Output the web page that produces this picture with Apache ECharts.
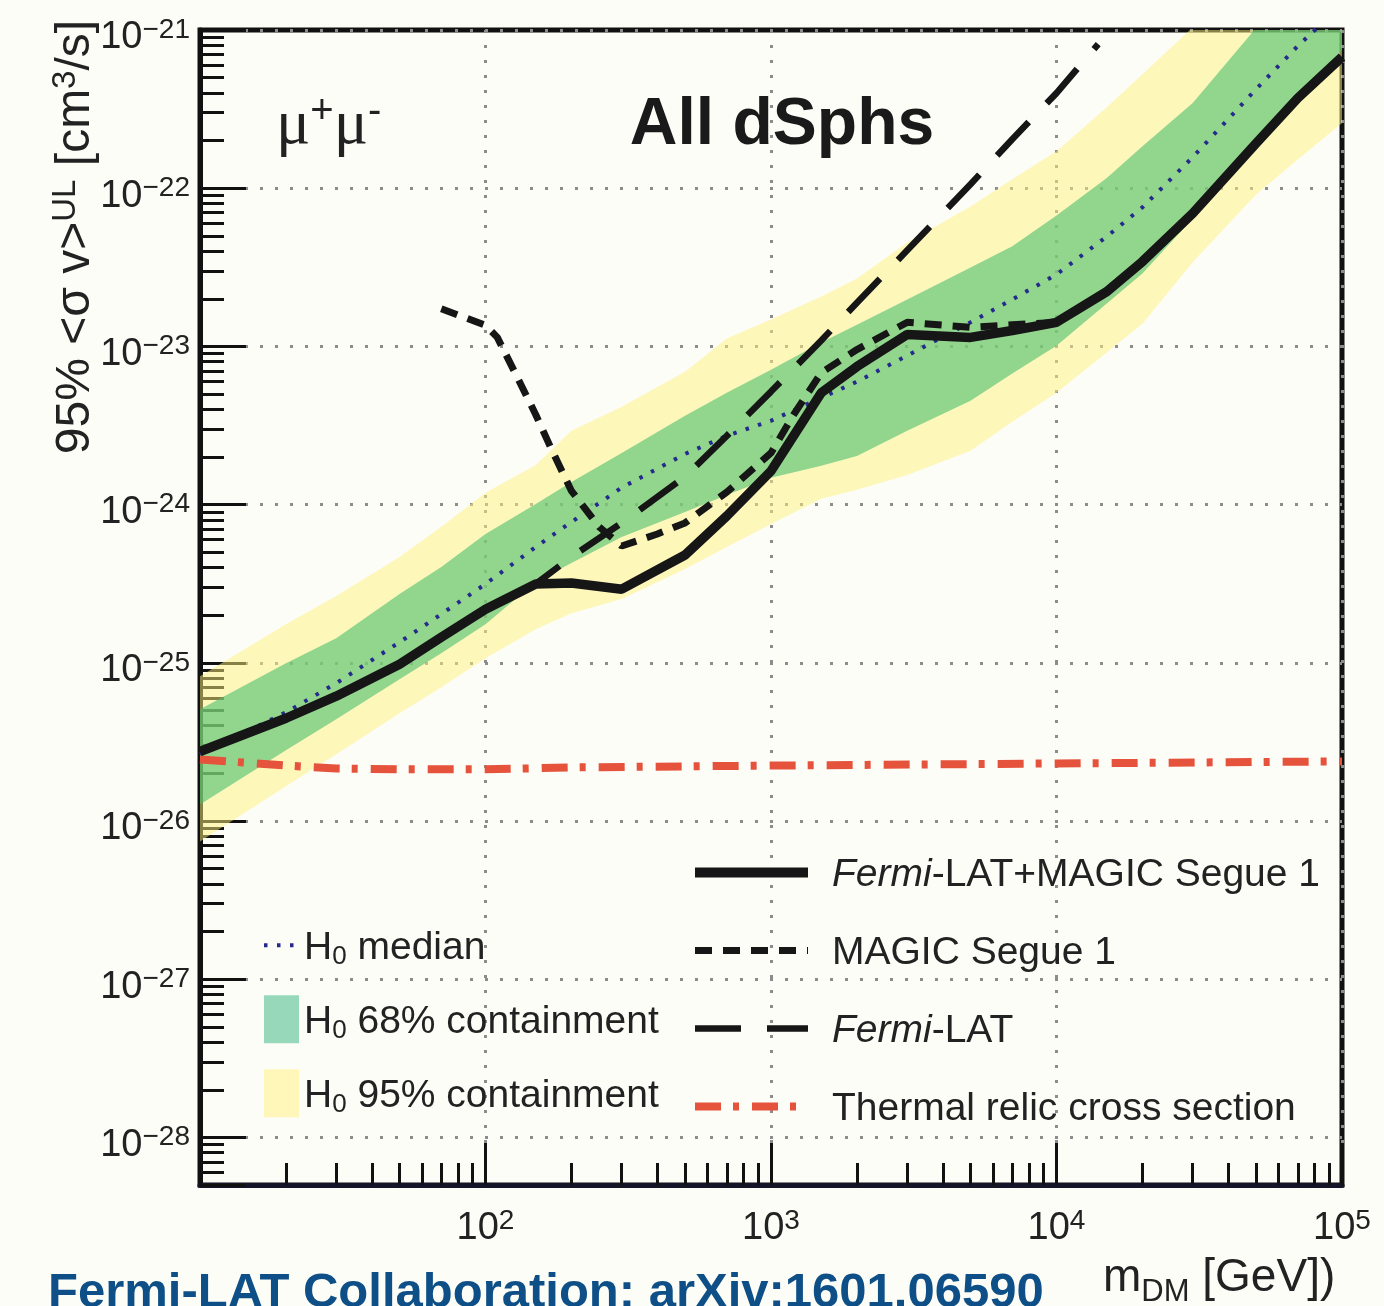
<!DOCTYPE html>
<html><head><meta charset="utf-8">
<script src="https://cdn.jsdelivr.net/npm/echarts@6/dist/echarts.min.js"></script>
<style>html,body{margin:0;padding:0;background:#fdfdf7;}#c{width:1384px;height:1306px;}</style>
</head><body><div id="c"></div>
<script>
// ---------------- data, cross sections in cm^3/s ----------------
const bandMass = [10,20,30,50,70,100,150,200,300,500,700,1000,1500,2000,3000,5000,7000,10000,15000,20000,30000,50000,70000,100000];
const h0Median  = [2.64e-26,4.86e-26,7.43e-26,1.35e-25,2.03e-25,3.15e-25,5.40e-25,7.76e-25,1.28e-24,2.09e-24,2.72e-24,3.39e-24,4.74e-24,5.98e-24,8.75e-24,1.42e-23,1.98e-23,2.85e-23,4.95e-23,7.57e-23,1.57e-22,4.23e-22,7.92e-22,1.44e-21];
const h0Upper68 = [5.08e-26,9.93e-26,1.43e-25,2.72e-25,4.03e-25,6.52e-25,1.01e-24,1.39e-24,2.12e-24,3.65e-24,5.09e-24,7.13e-24,1.06e-23,1.37e-23,1.98e-23,3.15e-23,4.29e-23,6.73e-23,1.16e-22,1.84e-22,3.45e-22,1.03e-21,2.08e-21,4.29e-21];
const h0Lower68 = [1.27e-26,2.80e-26,4.40e-26,7.87e-26,1.15e-25,1.75e-25,3.24e-25,4.28e-25,6.24e-25,8.99e-25,1.15e-24,1.48e-24,1.76e-24,2.03e-24,2.93e-24,4.54e-24,6.73e-24,1.01e-23,1.87e-23,2.89e-23,6.44e-23,1.87e-22,3.71e-22,7.46e-22];
const h0Upper95 = [8.22e-26,1.75e-25,2.64e-25,4.67e-25,7.23e-25,1.19e-24,1.78e-24,2.93e-24,4.16e-24,6.92e-24,1.12e-23,1.48e-23,2.07e-23,2.69e-23,4.54e-23,7.67e-23,1.14e-22,1.71e-22,3.25e-22,5.26e-22,1.04e-21,2.58e-21,4.62e-21,8.28e-21];
const h0Lower95 = [7.41e-27,1.66e-26,2.64e-26,4.80e-26,7.00e-26,1.07e-25,1.63e-25,2.06e-25,2.53e-25,3.92e-25,5.40e-25,7.55e-25,1.09e-24,1.24e-24,1.54e-24,2.19e-24,3.34e-24,5.09e-24,9.14e-24,1.39e-23,3.40e-23,9.14e-23,1.52e-22,2.58e-22];

const combMass  = [10,20,30,50,70,100,150,200,300,500,700,1000,1500,2000,3000,5000,7000,10000,15000,20000,30000,50000,70000,100000];
const combLimit = [2.75e-26,4.46e-26,6.15e-26,9.8e-26,1.45e-25,2.18e-25,3.15e-25,3.19e-25,2.92e-25,4.80e-25,8.47e-25,1.63e-24,5.09e-24,7.45e-24,1.19e-23,1.14e-23,1.26e-23,1.42e-23,2.22e-23,3.44e-23,6.93e-23,1.92e-22,3.71e-22,6.75e-22];

const magicMass  = [70,100,110,130,150,170,200,250,300,400,500,700,1000,1200,1500,2000,3000,5000,7000,10000];
const magicLimit = [1.73e-23,1.36e-23,1.14e-23,6.25e-24,3.70e-24,2.25e-24,1.22e-24,7.23e-25,5.47e-25,6.52e-25,7.66e-25,1.20e-24,2.12e-24,3.70e-24,6.82e-24,9.55e-24,1.42e-23,1.32e-23,1.37e-23,1.42e-23];

const fermiMass  = [10,20,30,50,70,100,150,200,300,500,700,1000,1500,2000,3000,5000,7000,10000,14000];
const fermiLimit = [2.75e-26,4.46e-26,6.15e-26,9.8e-26,1.45e-25,2.18e-25,3.15e-25,4.67e-25,7.66e-25,1.50e-24,2.72e-24,5.18e-24,1.09e-23,1.89e-23,4.05e-23,1.06e-22,2.04e-22,3.99e-22,8.15e-22];

const relicMass = [10,20,30,50,100,200,1000,10000,100000];
const relicXsec = [2.45e-26,2.24e-26,2.15e-26,2.12e-26,2.12e-26,2.18e-26,2.24e-26,2.31e-26,2.38e-26];

const xLabelExps = [2,3,4,5];
const yLabelExps = [-28,-27,-26,-25,-24,-23,-22,-21];
const X_MIN = 10, X_MAX = 1e5, Y_MIN = 5e-29, Y_MAX = 1e-21;

// The log scale of this ECharts build loses precision for values ~1e-29,
// so the y axis works in units of 1e-30 cm^3/s (labels are converted back).
const Y_UNIT_EXP = -30;
const toUnit = v => v / Math.pow(10, Y_UNIT_EXP);

// ---------------- styles ----------------
const FONT = '"Liberation Sans", Arial, Helvetica, sans-serif';
const TXT = '#222';
const INK = '#161616';
const STY = {
  comb:  {color: INK, width: 9.5, type: 'solid'},
  magic: {color: INK, width: 7, type: [17, 11]},
  fermi: {color: INK, width: 6.5, type: [46, 26]},
  relic: {color: '#e5533d', width: 8, type: [26, 12, 6, 13]},
  median:{color: '#252a8c', width: 4, type: [3.5, 9.5]}
};

// ---------------- helpers ----------------
function zip(xs, ys) { return xs.map((x, i) => [x, toUnit(ys[i])]); }
function decadeLabel(l, allowed) {
  const e = Math.round(l);
  if (Math.abs(l - e) > 1e-6 || allowed.indexOf(e) < 0) return '';
  return '{b|10}{s|' + (e < 0 ? '\u2212' + (-e) : String(e)) + '}';
}
const labelRich = {
  b: {fontSize: 38, fontFamily: FONT, color: TXT, lineHeight: 44},
  s: {fontSize: 28, fontFamily: FONT, color: TXT, lineHeight: 18, verticalAlign: 'top'}
};
const xMinorPos = [];
for (let n = 1; n < 5; n++) for (let k = 2; k <= 9; k++) xMinorPos.push(n + Math.log10(k));
const yMinU = Math.log10(toUnit(Y_MIN)), yMaxU = Math.log10(toUnit(Y_MAX));
const yMinorPos = [];
for (let n = -29; n < -21; n++) for (let k = 2; k <= 9; k++) {
  const p = n - Y_UNIT_EXP + Math.log10(k);
  if (p > yMinU + 1e-6) yMinorPos.push(p);
}

function bandSeries(name, lo, hi, fill, legendColor) {
  const loU = lo.map(toUnit), hiU = hi.map(toUnit);
  return {
    type: 'custom', name: name, z: 1, silent: true, clip: true,
    data: bandMass.map((m, i) => [m, loU[i], hiU[i]]),
    encode: {x: 0, y: [1, 2]},
    itemStyle: {color: legendColor},
    renderItem: function (params, api) {
      if (params.dataIndex !== 0) return null;
      const top = [], bot = [];
      for (let i = 0; i < bandMass.length; i++) {
        top.push(api.coord([bandMass[i], hiU[i]]));
        bot.push(api.coord([bandMass[i], loU[i]]));
      }
      const cs = params.coordSys;
      return {
        type: 'polygon',
        shape: {points: top.concat(bot.reverse())},
        style: {fill: fill},
        clipPath: {type: 'rect', shape: {x: cs.x, y: cs.y, width: cs.width, height: cs.height}}
      };
    }
  };
}
function lineSeries(name, xs, ys, sty, z) {
  return {type: 'line', name: name, z: z, data: zip(xs, ys), symbol: 'none', showSymbol: false, silent: true,
    itemStyle: {color: sty.color}, lineStyle: {color: sty.color, width: sty.width, type: sty.type}};
}

const legendText = {
  'H0 median': '{t|H}{sub|0}{t| median}',
  'H0 68% containment': '{t|H}{sub|0}{t| 68% containment}',
  'H0 95% containment': '{t|H}{sub|0}{t| 95% containment}',
  'Fermi-LAT+MAGIC Segue 1': '{i|Fermi}{t|-LAT+MAGIC Segue 1}',
  'MAGIC Segue 1': '{t|MAGIC Segue 1}',
  'Fermi-LAT': '{i|Fermi}{t|-LAT}',
  'Thermal relic cross section': '{t|Thermal relic cross section}'
};
const legendRich = {
  t: {fontSize: 39, fontFamily: FONT, color: TXT, lineHeight: 44},
  i: {fontSize: 39, fontFamily: FONT, color: TXT, fontStyle: 'italic', lineHeight: 44},
  sub: {fontSize: 26, fontFamily: FONT, color: TXT, lineHeight: 20, verticalAlign: 'bottom'}
};
const noSym = {opacity: 0};
function legLine(name, sty, w) {
  return {name: name, itemStyle: noSym, lineStyle: {color: sty.color, width: w || sty.width, type: sty.type}};
}

const chart = echarts.init(document.getElementById('c'));
const option = {
  backgroundColor: '#fdfdf7',
  animation: false,
  grid: {left: 200, right: 42, top: 30, bottom: 121, show: true, borderColor: '#111', borderWidth: 5, backgroundColor: 'transparent', outerBoundsMode: 'none'},
  xAxis: [
    {type: 'log', logBase: 10, min: X_MIN, max: X_MAX, position: 'bottom',
     axisLine: {show: true, onZero: false, lineStyle: {color: '#15152a', width: 5}},
     axisTick: {show: true, inside: true, length: 42, lineStyle: {color: '#111', width: 3}},
     splitLine: {show: true, lineStyle: {color: '#8c8c8c', width: 3, type: [3, 12]}},
     axisLabel: {show: true, margin: 22, color: TXT, formatter: v => decadeLabel(Math.log10(v), xLabelExps), rich: labelRich}},
    {type: 'value', min: 1, max: 5, position: 'bottom',
     axisLine: {show: false, onZero: false}, axisLabel: {show: false}, splitLine: {show: false},
     axisTick: {show: true, inside: true, length: 22, lineStyle: {color: '#111', width: 3}, customValues: xMinorPos}}
  ],
  yAxis: [
    {type: 'log', logBase: 10, min: toUnit(Y_MIN), max: toUnit(Y_MAX), position: 'left',
     axisLine: {show: true, onZero: false, lineStyle: {color: '#111', width: 5}},
     axisTick: {show: true, inside: true, length: 46, lineStyle: {color: '#111', width: 3}},
     splitLine: {show: true, lineStyle: {color: '#8c8c8c', width: 3, type: [3, 12]}},
     axisLabel: {show: true, margin: 10, color: TXT, padding: [16, 0, 0, 0], formatter: v => decadeLabel(Math.log10(v) + Y_UNIT_EXP, yLabelExps), rich: labelRich}},
    {type: 'value', min: yMinU, max: yMaxU, position: 'left',
     axisLine: {show: false, onZero: false}, axisLabel: {show: false}, splitLine: {show: false},
     axisTick: {show: true, inside: true, length: 24, lineStyle: {color: '#111', width: 3}, customValues: yMinorPos}}
  ],
  legend: [
    {data: [legLine('H0 median', STY.median), {name: 'H0 68% containment', icon: 'rect'}, {name: 'H0 95% containment', icon: 'rect'}],
     orient: 'vertical', left: 262, top: 926, itemWidth: 35, itemHeight: 48, itemGap: 25, padding: 0,
     selectedMode: false, formatter: n => legendText[n],
     textStyle: {fontSize: 39, fontFamily: FONT, color: TXT, padding: [6, 0, 0, 0], rich: legendRich}},
    {data: [legLine('Fermi-LAT+MAGIC Segue 1', STY.comb, 10), legLine('MAGIC Segue 1', STY.magic), legLine('Fermi-LAT', STY.fermi), legLine('Thermal relic cross section', STY.relic)],
     orient: 'vertical', left: 690, top: 856, itemWidth: 113, itemHeight: 40, itemGap: 39, padding: 0,
     selectedMode: false, formatter: n => legendText[n],
     textStyle: {fontSize: 39, fontFamily: FONT, color: TXT, padding: [6, 0, 0, 19], rich: legendRich}}
  ],
  series: [
    bandSeries('H0 95% containment', h0Lower95, h0Upper95, 'rgba(255,241,125,0.5)', '#fff7b9'),
    bandSeries('H0 68% containment', h0Lower68, h0Upper68, 'rgba(74,192,113,0.6)', '#97d8bb'),
    lineSeries('H0 median', bandMass, h0Median, STY.median, 3),
    lineSeries('Thermal relic cross section', relicMass, relicXsec, STY.relic, 4),
    lineSeries('Fermi-LAT', fermiMass, fermiLimit, STY.fermi, 5),
    lineSeries('MAGIC Segue 1', magicMass, magicLimit, STY.magic, 6),
    lineSeries('Fermi-LAT+MAGIC Segue 1', combMass, combLimit, STY.comb, 7)
  ],
  graphic: [
    {type: 'text', x: 276, y: 92, z: 20, silent: true,
     style: {text: '{m|\u03bc}{p|+}{m|\u03bc}{p|-}', align: 'left', verticalAlign: 'top',
       rich: {m: {fontSize: 64, fontFamily: '"Liberation Serif", "Times New Roman", serif', fill: TXT, lineHeight: 68},
              p: {fontSize: 40, fontFamily: FONT, fill: TXT, lineHeight: 30, verticalAlign: 'top'}}}},
    {type: 'text', x: 782, y: 126, z: 20, silent: true,
     style: {text: 'All dSphs', fontSize: 66, fontWeight: 'bold', fontFamily: FONT, fill: '#1a1a1a', align: 'center', verticalAlign: 'middle'}},
    {type: 'text', x: 76, y: 237, rotation: Math.PI / 2, z: 20, silent: true,
     style: {text: '{t|95% <\u03c3 v>}{s|UL}{t| [cm}{s|3}{t|/s]}', align: 'center', verticalAlign: 'middle',
       rich: {t: {fontSize: 48, fontFamily: FONT, fill: TXT, lineHeight: 54},
              s: {fontSize: 33, fontFamily: FONT, fill: TXT, lineHeight: 24, verticalAlign: 'top'}}}},
    {type: 'text', x: 1103, y: 1248, z: 20, silent: true,
     style: {text: '{t|m}{d|DM}{t| [GeV])}', align: 'left', verticalAlign: 'top',
       rich: {t: {fontSize: 46, fontFamily: FONT, fill: TXT, lineHeight: 60},
              d: {fontSize: 31, fontFamily: FONT, fill: TXT, lineHeight: 22, verticalAlign: 'bottom'}}}},
    {type: 'text', x: 48, y: 1293, z: 20, silent: true,
     style: {text: 'Fermi-LAT Collaboration: arXiv:1601.06590', fontSize: 49, fontWeight: 'bold', fontFamily: FONT, fill: '#0d4f86', align: 'left', verticalAlign: 'middle'}}
  ]
};
chart.setOption(option);
</script>
</body></html>
